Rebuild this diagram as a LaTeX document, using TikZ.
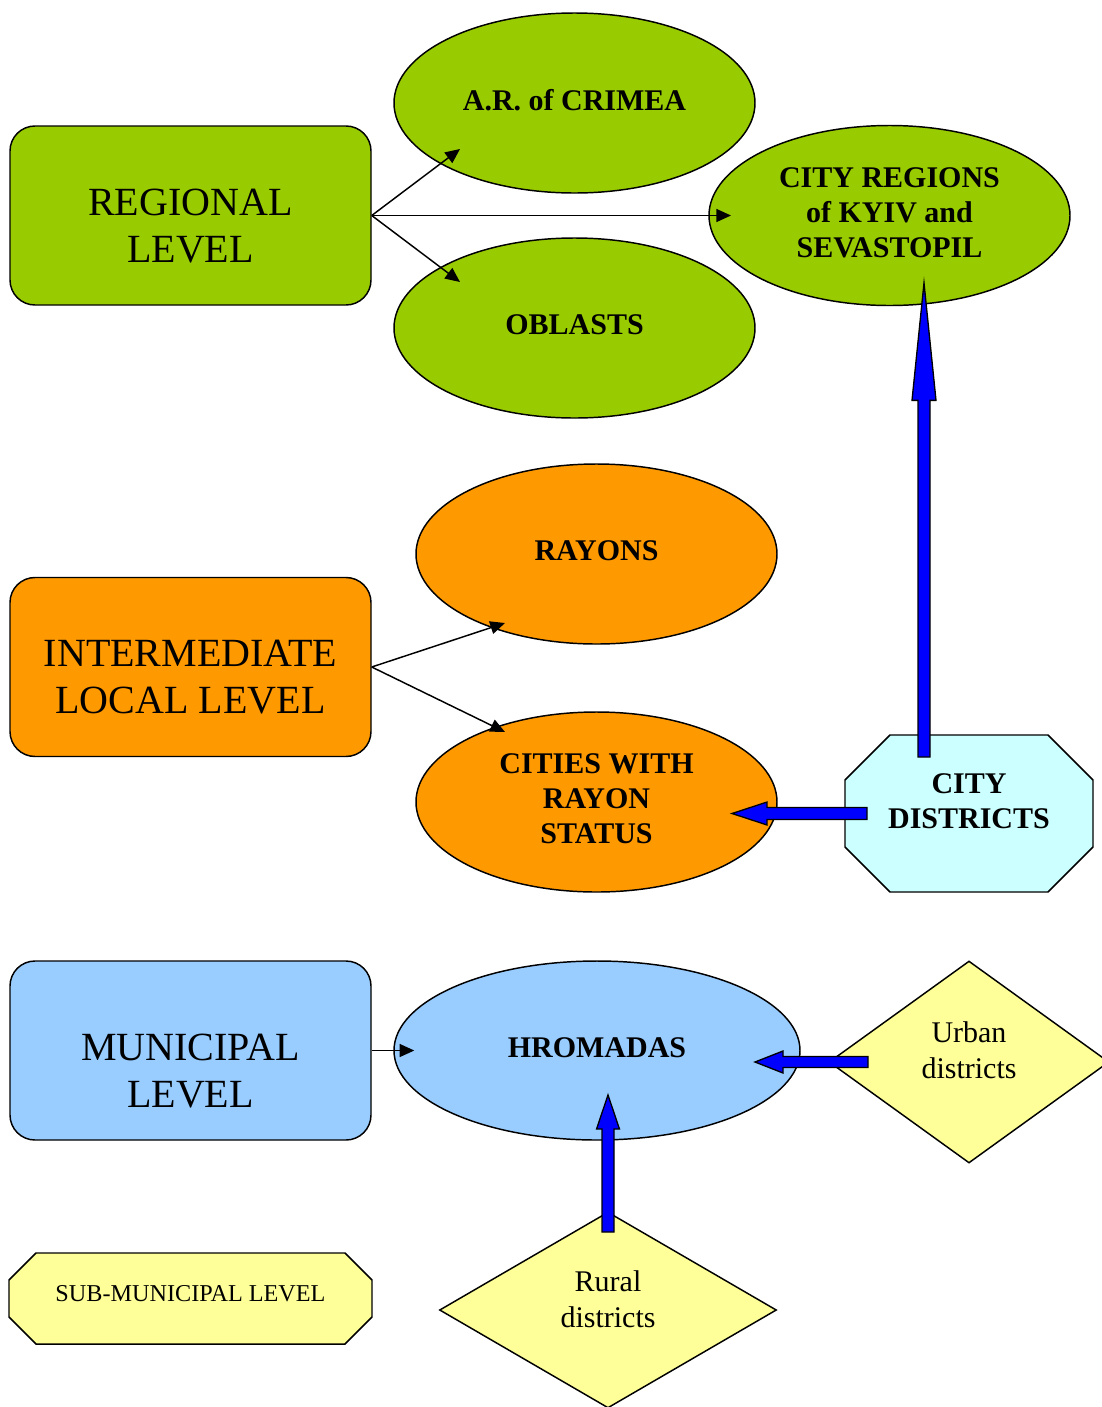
\documentclass[tikz,border=0pt]{standalone}
\usepackage{fontspec}
\setmainfont{Liberation Serif}
\usetikzlibrary{shapes.geometric,arrows.meta,calc,backgrounds}

\definecolor{levelgreen}{HTML}{99CC00}
\definecolor{localorange}{HTML}{FF9900}
\definecolor{munblue}{HTML}{99CCFF}
\definecolor{distcyan}{HTML}{CCFFFF}
\definecolor{subyellow}{HTML}{FFFF99}
\definecolor{arrowblue}{HTML}{0000FF}

% block arrow: from, to, half shaft, half head, head length
\newcommand{\blockarrow}[5]{%
  \coordinate (ba-base) at ($(#2)!#5!(#1)$);
  \filldraw[blockarrow] ($(#1)!#3!90:(#2)$) -- ($(ba-base)!#3!90:(#2)$) -- ($(ba-base)!#4!90:(#2)$) -- (#2)
    -- ($(ba-base)!#4!-90:(#2)$) -- ($(ba-base)!#3!-90:(#2)$) -- ($(#1)!#3!-90:(#2)$) -- cycle;}
% octagon behind a node: node, chamfer, fill
\newcommand{\octabox}[3]{%
  \begin{scope}[on background layer]
    \filldraw[fill=#3,line width=1.1pt] ([xshift=#2]#1.north west) -- ([xshift=-#2]#1.north east)
      -- ([yshift=-#2]#1.north east) -- ([yshift=#2]#1.south east) -- ([xshift=-#2]#1.south east)
      -- ([xshift=#2]#1.south west) -- ([yshift=#2]#1.south west) -- ([yshift=-#2]#1.north west) -- cycle;
  \end{scope}}

\begin{document}
\begin{tikzpicture}[x=0.75pt,y=-0.75pt,
  every node/.style={draw=black,line width=1.1pt,inner sep=0pt,align=center},
  levelbox/.style={rectangle,rounded corners=18.75pt,minimum width=270.75pt,minimum height=134.25pt,
    font=\fontsize{30pt}{35pt}\selectfont},
  unit/.style={ellipse,minimum width=270.75pt,minimum height=135pt,
    font=\bfseries\fontsize{22.5pt}{26.25pt}\selectfont,execute at end node={\rule[-5pt]{0pt}{5pt}}},
  district/.style={diamond,fill=subyellow,font=\fontsize{22.5pt}{27pt}\selectfont},
  octa/.style={rectangle,draw=none,outer sep=0pt},
  link/.style={line width=1.1pt,-{Triangle[length=11pt,width=9.75pt]}},
  blockarrow/.style={fill=arrowblue,draw=black,line width=1pt}]
  \useasboundingbox (0,0) rectangle (1102,1407);

  % Regional level
  \node[levelbox,fill=levelgreen] (reg) at (190.5,215.5) {\rule{0pt}{35.3pt}REGIONAL\\LEVEL};
  \node[unit,fill=levelgreen] (crimea) at (574.5,103) {A.R. of CRIMEA};
  \node[unit,fill=levelgreen] (oblasts) at (574.5,328) {OBLASTS};
  \node[unit,fill=levelgreen] (cityreg) at (889.5,215.5) {CITY REGIONS\\of KYIV and\\SEVASTOPIL};

  % Intermediate local level
  \node[levelbox,fill=localorange] (inter) at (190.5,667) {\rule{0pt}{35.3pt}INTERMEDIATE\\LOCAL LEVEL};
  \node[unit,fill=localorange] (rayons) at (596.5,554) {RAYONS};
  \node[unit,fill=localorange] (cities) at (596.5,802) {CITIES WITH\\RAYON\\STATUS};
  \node[octa,minimum width=186pt,minimum height=117.75pt,
    font=\bfseries\fontsize{22.5pt}{26.25pt}\selectfont] (cdist) at (969,813.5)
    {CITY\\DISTRICTS\rule[-18.75pt]{0pt}{18.75pt}};
  \octabox{cdist}{33.75pt}{distcyan}

  % Municipal level
  \node[levelbox,fill=munblue] (mun) at (190.5,1050.5) {\rule{0pt}{51pt}MUNICIPAL\\LEVEL};
  \node[unit,fill=munblue,minimum width=304.5pt,minimum height=134.25pt] (hrom) at (597,1050.5) {HROMADAS};
  \node[district,minimum width=210pt,minimum height=151.5pt] (urban) at (969,1062)
    {Urban\\districts\rule[-18pt]{0pt}{18pt}};
  \node[district,minimum width=252.75pt,minimum height=147pt] (rural) at (608,1310)
    {Rural\\districts\rule[-16.5pt]{0pt}{16.5pt}};

  % Sub-municipal level
  \node[octa,minimum width=272.25pt,minimum height=68.25pt,
    font=\fontsize{18.15pt}{21pt}\selectfont] (sub) at (190.5,1298.5)
    {SUB-MUNICIPAL LEVEL\rule[-8.25pt]{0pt}{8.25pt}};
  \octabox{sub}{20.25pt}{subyellow}

  % thin links
  \draw[link] (reg.east) -- ([shift={(-114.5,46)}]crimea.center);
  \draw[link] (reg.east) -- ([shift={(-158.5,0)}]cityreg.center);
  \draw[link] (reg.east) -- ([shift={(-114.5,-46)}]oblasts.center);
  \draw[link] (inter.east) -- ([shift={(-91.5,69)}]rayons.center);
  \draw[link] (inter.east) -- ([shift={(-91.5,-70)}]cities.center);
  \draw[link] (mun.east) -- ([shift={(21,0)}]hrom.west);

  % block arrows
  \coordinate (cd-up) at ([shift={(-45,-56.5)}]cdist.center);
  \coordinate (cr-in) at ([shift={(34.5,67.5)}]cityreg.center);
  \coordinate (cd-left) at ([shift={(-102,0)}]cdist.center);
  \coordinate (ci-in) at ([shift={(135.5,11.5)}]cities.center);
  \coordinate (ur-left) at ([shift={(-101,0)}]urban.center);
  \coordinate (hr-right) at ([shift={(158,11.5)}]hrom.center);
  \coordinate (ru-up) at ([shift={(0,-78)}]rural.center);
  \coordinate (hr-low) at ([shift={(11,44.5)}]hrom.center);
  \blockarrow{cd-up}{cr-in}{4.5pt}{9pt}{88pt}
  \blockarrow{cd-left}{ci-in}{4.5pt}{8.6pt}{26.25pt}
  \blockarrow{ur-left}{hr-right}{4.1pt}{8.25pt}{21pt}
  \blockarrow{ru-up}{hr-low}{4.5pt}{8.6pt}{25.5pt}
\end{tikzpicture}
\end{document}
